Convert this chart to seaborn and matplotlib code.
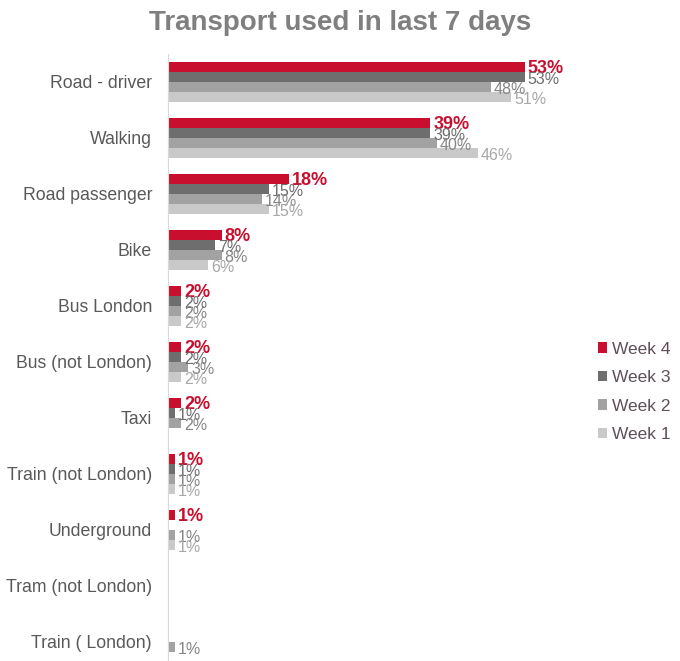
import numpy as np
import pandas as pd
import matplotlib
matplotlib.use("Agg")
import matplotlib.pyplot as plt
import seaborn as sns

categories = ["Road - driver", "Walking", "Road passenger", "Bike", "Bus London",
              "Bus (not London)", "Taxi", "Train (not London)", "Underground",
              "Tram (not London)", "Train ( London)"]
weeks = ["Week 4", "Week 3", "Week 2", "Week 1"]
nan = np.nan
week4 = [53, 39, 18, 8, 2, 2, 2, 1, 1, nan, nan]
week3 = [53, 39, 15, 7, 2, 2, 1, 1, nan, nan, nan]
week2 = [48, 40, 14, 8, 2, 3, 2, 1, 1, nan, 1]
week1 = [51, 46, 15, 6, 2, 2, nan, 1, 1, nan, nan]

colors = ["#c8102e", "#6e6e6e", "#a2a2a2", "#c9c9c9"]
label_colors = ["#c8102e", "#6e6e6e", "#868686", "#a8a8a8"]

rows = []
for wk, vals in zip(weeks, [week4, week3, week2, week1]):
    for cat, v in zip(categories, vals):
        rows.append({"category": cat, "week": wk, "pct": v})
df = pd.DataFrame(rows)

sns.set_style("white")
plt.rcParams["font.family"] = ["Liberation Sans", "DejaVu Sans"]

fig = plt.figure(figsize=(6.8, 6.61), dpi=100)
ax = fig.add_axes([168 / 680, 0, (565 - 168) / 680, 1 - 54 / 661])

sns.barplot(data=df, x="pct", y="category", hue="week", order=categories,
            hue_order=weeks, palette=colors, width=0.72, orient="h", ax=ax,
            saturation=1, errorbar=None, linewidth=0)

for i, cont in enumerate(ax.containers):
    if i == 0:
        anns = ax.bar_label(cont, fmt="%.0f%%", padding=2, color=label_colors[i],
                            fontsize=13, fontweight="bold")
    else:
        anns = ax.bar_label(cont, fmt="%.0f%%", padding=2, color=label_colors[i],
                            fontsize=11.5)
    for a in anns:
        a.xyann = (2, -1.5)

ax.set_xlim(0, 59)
ax.set_ylim(10.34, -0.5)
ax.set_xlabel("")
ax.set_ylabel("")
ax.set_xticks([])
ax.tick_params(axis="y", length=0, pad=11.5, labelsize=12.7, labelcolor="#595959")
for s in ["top", "right", "bottom"]:
    ax.spines[s].set_visible(False)
ax.spines["left"].set_color("#d9d9d9")

leg = ax.legend(loc="center left", bbox_to_anchor=(582 / 680, 1 - 392 / 661),
                bbox_transform=fig.transFigure, frameon=False, fontsize=12.5,
                labelspacing=0.78, handlelength=0.55, handleheight=0.55,
                handletextpad=0.3)
for t in leg.get_texts():
    t.set_color("#5f4f5a")

fig.suptitle("Transport used in last 7 days", x=0.5, y=0.985, fontsize=20,
             fontweight="bold", color="#7f7f7f")

fig.savefig("out.png", dpi=100)
